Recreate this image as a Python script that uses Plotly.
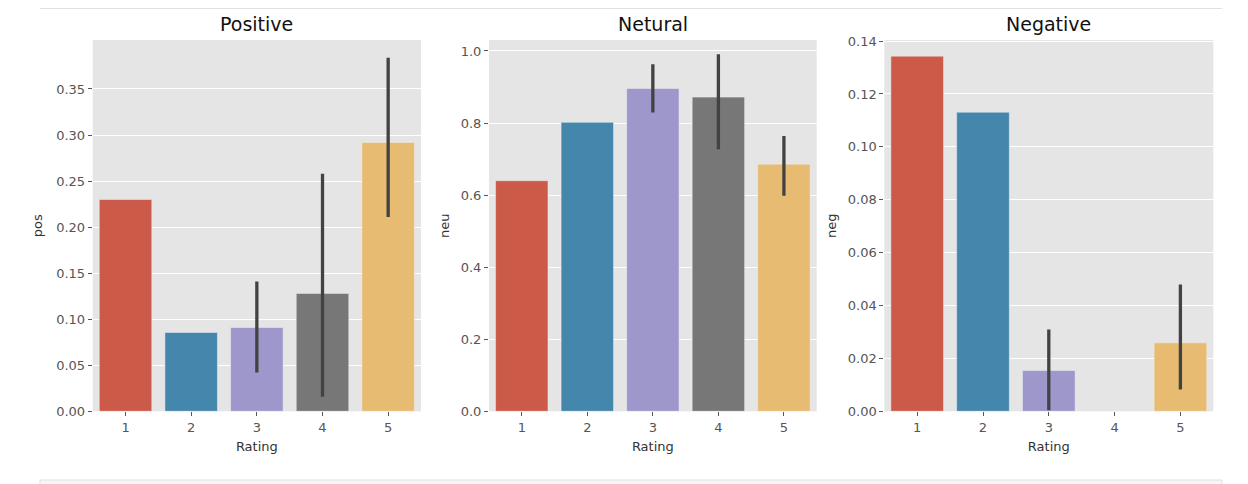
import plotly.graph_objects as go

categories = ["1", "2", "3", "4", "5"]
colors = ["#CC5A49", "#4586AC", "#9E97CC", "#777777", "#E7BC72"]

pos_vals = [0.230, 0.0856, 0.091, 0.128, 0.292]
pos_lo = [0.230, 0.0856, 0.042, 0.0157, 0.211]
pos_hi = [0.230, 0.0856, 0.141, 0.258, 0.384]

neu_vals = [0.640, 0.802, 0.896, 0.872, 0.686]
neu_lo = [0.640, 0.802, 0.829, 0.727, 0.598]
neu_hi = [0.640, 0.802, 0.963, 0.991, 0.764]

neg_vals = [0.1343, 0.1131, 0.0154, 0.0, 0.0259]
neg_lo = [0.1343, 0.1131, 0.0004, 0.0, 0.0082]
neg_hi = [0.1343, 0.1131, 0.0309, 0.0, 0.0479]

titles = ["Positive", "Netural", "Negative"]
ylabels = ["pos", "neu", "neg"]
yranges = [[0, 0.4032], [0, 1.0305], [0, 0.1404]]
ytickvals = [
    [0, 0.05, 0.10, 0.15, 0.20, 0.25, 0.30, 0.35],
    [0, 0.2, 0.4, 0.6, 0.8, 1.0],
    [0, 0.02, 0.04, 0.06, 0.08, 0.10, 0.12, 0.14],
]
ytickfmt = [".2f", ".1f", ".2f"]

OFF = 8  # page body margin
W, H = 1248 - OFF, 484 - OFF
xdoms = [(92.7, 421.0), (489.0, 816.7), (884.3, 1213.3)]
ytop, ybot = 40.0, 411.3
ydom = [1 - (ybot - OFF) / H, 1 - (ytop - OFF) / H]
ystand = [10, 8, 8]

FONT = "DejaVu Sans"
fig = go.Figure()

series = [(pos_vals, pos_lo, pos_hi), (neu_vals, neu_lo, neu_hi), (neg_vals, neg_lo, neg_hi)]
layout_axes = {}
annotations = []
for i, (vals, lo, hi) in enumerate(series):
    n = "" if i == 0 else str(i + 1)
    up = [h - v for h, v in zip(hi, vals)]
    dn = [v - l for v, l in zip(vals, lo)]
    fig.add_trace(go.Bar(
        x=list(range(5)), y=vals,
        marker=dict(color=colors, line=dict(color="#EEEEEE", width=0.5)),
        width=0.8,
        error_y=dict(type="data", symmetric=False, array=up, arrayminus=dn,
                     color="#424242", thickness=3.3, width=0),
        xaxis="x" + n, yaxis="y" + n, showlegend=False,
    ))
    x0, x1 = xdoms[i][0] - OFF, xdoms[i][1] - OFF
    layout_axes["xaxis" + n] = dict(
        domain=[x0 / W, x1 / W], anchor="y" + n,
        range=[-0.5, 4.5], tickvals=list(range(5)), ticktext=categories,
        showgrid=False, zeroline=False, ticks="outside", ticklen=4,
        tickcolor="#555555", tickwidth=1,
        tickfont=dict(family=FONT, size=13, color="#555555"),
        title=dict(text="Rating", font=dict(family=FONT, size=13, color="#333333"), standoff=7),
        automargin=False, showline=False,
    )
    layout_axes["yaxis" + n] = dict(
        domain=ydom, anchor="x" + n, range=yranges[i],
        tickvals=ytickvals[i], tickformat=ytickfmt[i],
        showgrid=True, gridcolor="#FFFFFF", gridwidth=1, zeroline=False,
        ticks="outside", ticklen=4, tickcolor="#555555", tickwidth=1,
        tickfont=dict(family=FONT, size=13, color="#555555"),
        title=dict(text=ylabels[i], font=dict(family=FONT, size=13, color="#333333"), standoff=ystand[i]),
        automargin=False, showline=False,
    )
    annotations.append(dict(
        text=titles[i], x=(x0 + x1) / 2 / W, y=1 - (24 - OFF) / H, xref="paper", yref="paper",
        xanchor="center", yanchor="middle", showarrow=False,
        font=dict(family=FONT, size=19, color="#111111"),
    ))

fig.update_layout(
    width=W, height=H,
    margin=dict(l=0, r=0, t=0, b=0),
    paper_bgcolor="#FFFFFF", plot_bgcolor="#E5E5E5",
    annotations=annotations,
    shapes=[
        dict(type="line", xref="paper", yref="paper", x0=(40 - OFF) / W, x1=(1222 - OFF) / W,
             y0=1 - 0.5 / H, y1=1 - 0.5 / H, line=dict(color="#E0E0E0", width=1)),
        dict(type="rect", xref="paper", yref="paper", x0=(40 - OFF) / W, x1=(1222 - OFF) / W,
             y0=-0.01, y1=1 - (480 - OFF) / H, fillcolor="#F7F7F7", line=dict(color="#E0E0E0", width=1)),
    ],
    **layout_axes,
)

fig.write_html("out.html")
